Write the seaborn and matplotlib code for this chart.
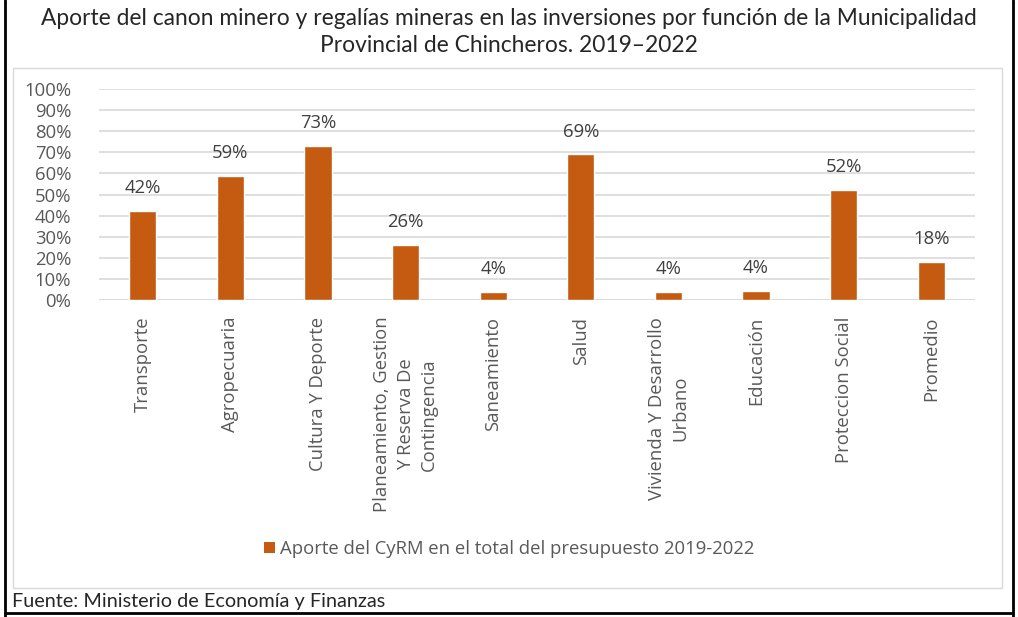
import matplotlib
matplotlib.use("Agg")
import matplotlib.pyplot as plt
import seaborn as sns
import pandas as pd
from matplotlib.patches import Patch, Rectangle
from matplotlib.lines import Line2D
from matplotlib.ticker import PercentFormatter

categories = [
    "Transporte",
    "Agropecuaria",
    "Cultura Y Deporte",
    "Planeamiento, Gestion\nY Reserva De\nContingencia",
    "Saneamiento",
    "Salud",
    "Vivienda Y Desarrollo\nUrbano",
    "Educación",
    "Proteccion Social",
    "Promedio",
]
values = [0.42, 0.59, 0.73, 0.26, 0.04, 0.69, 0.04, 0.044, 0.52, 0.18]
series_name = "Aporte del CyRM en el total del presupuesto 2019-2022"
title = ("Aporte del canon minero y regalías mineras en las inversiones por función de la Municipalidad\n"
         "Provincial de Chincheros. 2019\u20132022")
source = "Fuente: Ministerio de Economía y Finanzas"

bar_color = "#C55A11"
text_gray = "#595959"

sns.set_style("white")
plt.rcParams["font.family"] = ["Open Sans", "DejaVu Sans"]

df = pd.DataFrame({"cat": categories, "val": values})

fig = plt.figure(figsize=(10.18, 6.17), dpi=100)
ax = fig.add_axes([99 / 1018, 1 - 300 / 617, 876 / 1018, 211 / 617])

sns.barplot(data=df, x="cat", y="val", color=bar_color, width=0.31,
            saturation=1, ax=ax, zorder=3)

ax.set_ylim(0, 1)
ax.set_yticks([i / 10 for i in range(11)])
ax.yaxis.set_major_formatter(PercentFormatter(1.0, decimals=0))
ax.grid(axis="y", color="#D9D9D9", linewidth=1.2, zorder=0)
ax.set_xlabel("")
ax.set_ylabel("")
for s in ax.spines.values():
    s.set_visible(False)
ax.axhline(0, color="#D9D9D9", linewidth=1.2, zorder=1)
ax.tick_params(axis="both", length=0, colors=text_gray, labelsize=13.3)
ax.tick_params(axis="y", pad=20)
ax.tick_params(axis="x", pad=12)
for lab in ax.get_xticklabels():
    lab.set_rotation(90)
    lab.set_multialignment("center")
    lab.set_linespacing(1.4)

for i, v in enumerate(values):
    ax.annotate(f"{v:.0%}", (i, v), xytext=(0, 10), textcoords="offset points",
                ha="center", va="bottom", fontsize=13.3, color="#404040")

handle = Patch(facecolor=bar_color, edgecolor="none")
fig.legend([handle], [series_name], loc="center", bbox_to_anchor=(0.5, 1 - 549 / 617),
           frameon=False, fontsize=13.3, labelcolor=text_gray,
           handlelength=0.6, handleheight=0.6, handletextpad=0.3)

fig.text(0.5, 1 - 32 / 617, title, ha="center", va="center", fontsize=16.4,
         family=["Lato", "DejaVu Sans"], linespacing=1.3)
fig.text(12 / 1018, 1 - 601 / 617, source, ha="left", va="center", fontsize=14.3,
         family=["Lato", "DejaVu Sans"])

# inner chart box and outer border
fig.patches.append(Rectangle((13 / 1018, 1 - 588 / 617), (1002 - 13) / 1018, (588 - 68) / 617,
                             transform=fig.transFigure, fill=False, edgecolor="#D9D9D9", linewidth=1))
for xs, ys in [([5, 5], [0, 617]), ([1013, 1013], [0, 617]), ([5, 1013], [613, 613])]:
    fig.add_artist(Line2D([x / 1018 for x in xs], [1 - y / 617 for y in ys],
                          transform=fig.transFigure, color="black", linewidth=2))

fig.savefig("out.png", dpi=100)
